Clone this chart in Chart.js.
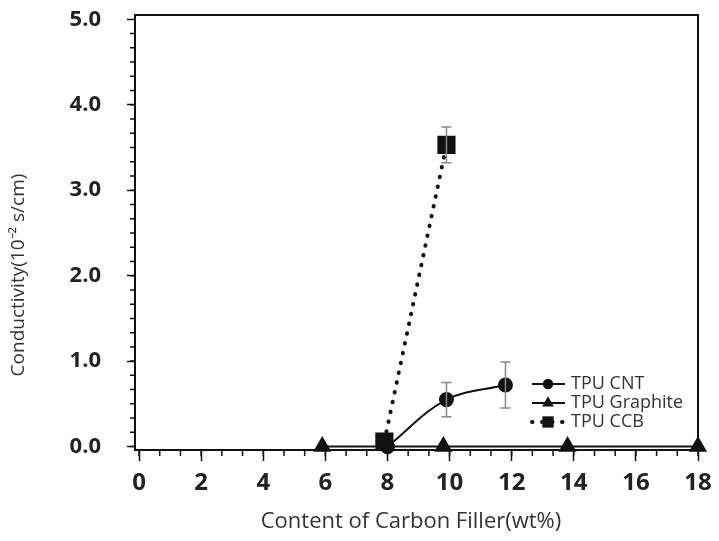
<!DOCTYPE html>
<html>
<head>
<meta charset="utf-8">
<script src="https://cdn.jsdelivr.net/npm/chart.js@4"></script>
<style>
  html, body { margin: 0; padding: 0; background: #fff; }
  #wrap { width: 719px; height: 541px; }
</style>
</head>
<body>
<div id="wrap"><canvas id="conductivityChart"></canvas></div>
<script>
// values
const xTicks = [0, 2, 4, 6, 8, 10, 12, 14, 16, 18];
const yTicks = [0, 1, 2, 3, 4, 5];

const cntX = [8, 9.9, 11.8];
const cntY = [0, 0.55, 0.72];
const cntErr = [0, 0.2, 0.27];

const graphiteX = [5.9, 9.8, 13.8, 18];
const graphiteY = [0, 0, 0, 0];

const ccbX = [7.9, 9.9];
const ccbY = [0.06, 3.53];
const ccbErr = [0, 0.21];

const seriesNames = ['TPU CNT', 'TPU Graphite', 'TPU CCB'];
const xTitle = 'Content of Carbon Filler(wt%)';
const yTitle = 'Conductivity(10\u207B\u00B2 s/cm)';

const toPoints = (xs, ys) => xs.map((x, i) => ({ x: x, y: ys[i] }));

// error bars, frame, minor ticks, axis titles, legend
const extras = {
  id: 'extras',
  afterDatasetsDraw(chart) {
    const ctx = chart.ctx;
    const xs = chart.scales.x, ys = chart.scales.y;
    ctx.save();
    ctx.strokeStyle = '#888';
    ctx.lineWidth = 1.5;
    [[cntX, cntY, cntErr], [ccbX, ccbY, ccbErr]].forEach(([X, Y, E]) => {
      X.forEach((x, i) => {
        if (!E[i]) return;
        const px = xs.getPixelForValue(x);
        const top = ys.getPixelForValue(Y[i] + E[i]);
        const bot = ys.getPixelForValue(Y[i] - E[i]);
        ctx.beginPath();
        ctx.moveTo(px, top); ctx.lineTo(px, bot);
        ctx.moveTo(px - 5, top); ctx.lineTo(px + 5, top);
        ctx.moveTo(px - 5, bot); ctx.lineTo(px + 5, bot);
        ctx.stroke();
      });
    });
    ctx.restore();
  },
  afterDraw(chart) {
    const ctx = chart.ctx;
    const a = chart.chartArea;
    const xs = chart.scales.x, ys = chart.scales.y;
    ctx.save();
    ctx.strokeStyle = '#111';
    ctx.lineWidth = 2;
    ctx.strokeRect(a.left, a.top, a.right - a.left, a.bottom - a.top);

    // minor ticks
    ctx.lineWidth = 1.5;
    ctx.beginPath();
    for (let v = 0; v < 5; v += 1 / 6) {
      const py = ys.getPixelForValue(v);
      ctx.moveTo(a.left - 5, py); ctx.lineTo(a.left, py);
    }
    for (let v = 0; v <= 18; v += 2 / 3) {
      const px = xs.getPixelForValue(v);
      ctx.moveTo(px, a.bottom); ctx.lineTo(px, a.bottom + 6);
    }
    ctx.stroke();

    // axis titles
    ctx.fillStyle = '#333';
    ctx.font = '22px "Open Sans"';
    ctx.textAlign = 'center';
    ctx.textBaseline = 'middle';
    ctx.fillText(xTitle, 411, 522);
    ctx.save();
    ctx.translate(19, 275);
    ctx.rotate(-Math.PI / 2);
    ctx.font = '19px "Open Sans"';
    ctx.fillText(yTitle, 0, 0);
    ctx.restore();

    // legend
    const lx0 = 532, lx1 = 565, mx = 548, tx = 571;
    const rows = [384, 403, 422];
    ctx.font = '18px "Open Sans"';
    ctx.textAlign = 'left';
    chart.data.datasets.forEach((ds, i) => {
      const y = rows[i];
      ctx.save();
      ctx.strokeStyle = '#111';
      ctx.lineWidth = ds.borderWidth;
      ctx.lineCap = ds.borderCapStyle || 'butt';
      ctx.setLineDash(ds.borderDash || []);
      ctx.beginPath();
      ctx.moveTo(lx0, y); ctx.lineTo(lx1, y);
      ctx.stroke();
      ctx.restore();
      ctx.fillStyle = '#111';
      Chart.helpers.drawPoint(ctx, {
        pointStyle: ds.pointStyle,
        radius: ds.pointRadius * 0.8,
        borderWidth: 0
      }, mx, y);
      ctx.fillStyle = '#333';
      ctx.fillText(ds.label, tx, y);
    });
    ctx.restore();
  }
};

const data = {
  datasets: [
    {
      label: seriesNames[0],
      data: toPoints(cntX, cntY),
      borderColor: '#111',
      backgroundColor: '#111',
      borderWidth: 2,
      pointStyle: 'circle',
      pointRadius: 6.5,
      tension: 0.35
    },
    {
      label: seriesNames[1],
      data: toPoints(graphiteX, graphiteY),
      borderColor: '#111',
      backgroundColor: '#111',
      borderWidth: 2,
      pointStyle: 'triangle',
      pointRadius: 8.5
    },
    {
      label: seriesNames[2],
      data: toPoints(ccbX, ccbY),
      borderColor: '#111',
      backgroundColor: '#111',
      borderWidth: 4,
      borderDash: [0.5, 9.5],
      borderCapStyle: 'round',
      pointStyle: 'rect',
      pointRadius: 10
    }
  ]
};

const options = {
  responsive: false,
  animation: false,
  clip: false,
  layout: { padding: { left: 0, top: 15, right: 21, bottom: 0 } },
  scales: {
    x: {
      type: 'linear',
      min: -0.13,
      max: 18,
      afterBuildTicks: (s) => { s.ticks = xTicks.map(v => ({ value: v })); },
      afterFit: (s) => { s.height = 91; s.paddingLeft = 0; s.paddingRight = 0; },
      border: { display: false },
      grid: { drawOnChartArea: false, tickLength: 11, tickWidth: 1.5, tickColor: '#111' },
      ticks: {
        autoSkip: false,
        maxRotation: 0,
        padding: 8,
        color: '#222',
        font: { family: 'Open Sans', size: 24, weight: 'bold' }
      }
    },
    y: {
      min: -0.04,
      max: 5.05,
      afterBuildTicks: (s) => { s.ticks = yTicks.map(v => ({ value: v })); },
      afterFit: (s) => { s.width = 135; s.paddingTop = 0; s.paddingBottom = 0; },
      border: { display: false },
      grid: { drawOnChartArea: false, tickLength: 8, tickWidth: 1.5, tickColor: '#111' },
      ticks: {
        padding: 26,
        color: '#222',
        callback: (v) => Number(v).toFixed(1),
        font: { family: 'Open Sans', size: 22, weight: 'bold' }
      }
    }
  },
  plugins: {
    legend: { display: false },
    tooltip: { enabled: false }
  }
};

const canvas = document.getElementById('conductivityChart');
canvas.width = 719;
canvas.height = 541;
new Chart(canvas, { type: 'line', data: data, options: options, plugins: [extras] });
</script>
</body>
</html>
